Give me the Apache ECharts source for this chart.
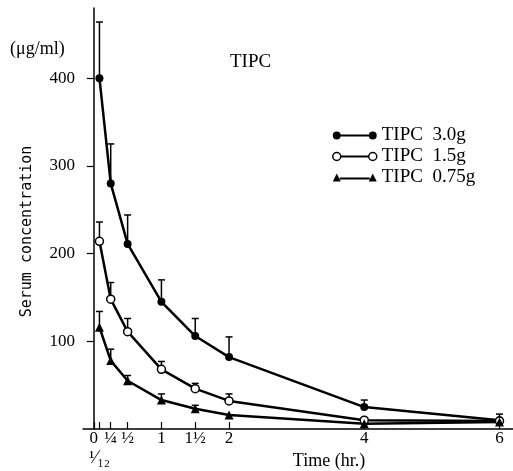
<!DOCTYPE html>
<html><head><meta charset="utf-8">
<script src="https://cdn.jsdelivr.net/npm/echarts@6/dist/echarts.min.js"></script>
<style>html,body{margin:0;padding:0;background:#fff}#c{width:513px;height:471px}</style>
</head><body><div id="c"></div>
<script>
// Time points (hr.)
const times = [1/12, 1/4, 1/2, 1, 1.5, 2, 4, 6];
// Mean serum concentration (µg/ml)
const dose30 = [400, 280, 211, 145, 106, 82, 25, 10];
const dose15 = [214, 148, 111, 68, 46, 32, 10, 9];
const dose075 = [116, 78, 55, 33, 23, 16, 6, 8];
// Upper end of error bars (mean + SD)
const dose30Top = [464, 325, 244, 170, 126, 105, 33, 17];
const dose15Top = [236, 167, 126, 77, 52, 40, null, null];
const dose075Top = [134, 91, 61, 40, 27, null, null, null];
// Axis ticks
const xTicks = [0, 1/12, 1/4, 1/2, 1, 1.5, 2, 4, 6];
const xTickLabels = ['0', '', '\u00BC', '\u00BD', '1', '1\u00BD', '2', '4', '6'];
const xLowTicks = [1/12];
const xLowLabels = ['\u00B9\u2044\u2081\u2082'];
const yTicks = [100, 200, 300, 400];
const seriesNames = ['TIPC  3.0g', 'TIPC  1.5g', 'TIPC  0.75g'];

const SERIF = '"Liberation Serif", "DejaVu Serif", serif';

function pairs(ys) { return times.map((t, i) => [t, ys[i]]); }
function errData(ys, tops) {
  const out = [];
  times.forEach((t, i) => { if (tops[i] != null) out.push([t, ys[i], tops[i]]); });
  return out;
}
function renderErr(params, api) {
  const x = api.value(0), m = api.value(1), t = api.value(2);
  const p0 = api.coord([x, m]), p1 = api.coord([x, t]);
  return { type: 'group', children: [
    { type: 'line', shape: { x1: p0[0], y1: p0[1], x2: p1[0], y2: p1[1] }, style: { stroke: '#000', lineWidth: 1.5 } },
    { type: 'line', shape: { x1: p1[0] - 3.5, y1: p1[1], x2: p1[0] + 3.5, y2: p1[1] }, style: { stroke: '#000', lineWidth: 1.5 } }
  ]};
}
function labelFor(ticks, labels) {
  return function (v) {
    for (let i = 0; i < ticks.length; i++) if (Math.abs(ticks[i] - v) < 1e-6) return labels[i];
    return '';
  };
}

const iconFilled = 'path://M0,5A4,4,0,1,1,8,5A4,4,0,1,1,0,5Z M8,4L36,4L36,6L8,6Z M36,5A4,4,0,1,1,44,5A4,4,0,1,1,36,5Z';
const iconOpen = 'path://M0,5A4,4,0,1,1,8,5A4,4,0,1,1,0,5Z M8,4.75L36,4.75L36,5.25L8,5.25Z M36,5A4,4,0,1,1,44,5A4,4,0,1,1,36,5Z';
const iconTri = 'path://M0,9L4,1L8,9Z M7,5L37,5L37,7L7,7Z M36,9L40,1L44,9Z';

const chart = echarts.init(document.getElementById('c'), null, { renderer: 'canvas' });
chart.setOption({
  animation: false,
  backgroundColor: '#fff',
  textStyle: { fontFamily: SERIF, color: '#000' },
  title: [
    { text: 'TIPC', left: 230, top: 53, padding: 0, textStyle: { fontFamily: SERIF, fontSize: 19, fontWeight: 'normal', color: '#000' } },
    { text: '(\u03BCg/ml)', left: 10, top: 40, padding: 0, textStyle: { fontFamily: SERIF, fontSize: 18, fontWeight: 'normal', color: '#000' } }
  ],
  legend: {
    orient: 'vertical', left: 332, top: 126, padding: 0,
    itemWidth: 44, itemHeight: 8, itemGap: 2, selectedMode: false,
    textStyle: { fontFamily: SERIF, fontSize: 19, color: '#000' },
    data: [
      { name: seriesNames[0], icon: iconFilled, itemStyle: { color: '#000', borderWidth: 0 } },
      { name: seriesNames[1], icon: iconOpen, itemStyle: { color: '#fff', borderColor: '#000', borderWidth: 1.5 } },
      { name: seriesNames[2], icon: iconTri, itemStyle: { color: '#000', borderWidth: 0 } }
    ]
  },
  grid: { left: 83, right: 0, top: 8, bottom: 42, containLabel: false, outerBoundsMode: 'none' },
  xAxis: [{
    type: 'value', min: -0.16, max: 6.2,
    name: 'Time (hr.)', nameLocation: 'middle', nameGap: 22,
    nameTextStyle: { fontFamily: SERIF, fontSize: 18, color: '#000', padding: [0, 0, 0, 62] },
    axisLine: { show: true, lineStyle: { color: '#000', width: 1.5 } },
    axisTick: { show: true, inside: true, length: 7, customValues: xTicks, lineStyle: { color: '#000', width: 1.2 } },
    axisLabel: { customValues: xTicks, margin: 1, fontFamily: SERIF, fontSize: 17, color: '#000', hideOverlap: false,
      formatter: labelFor(xTicks, xTickLabels) },
    splitLine: { show: false }
  }, {
    type: 'value', min: -0.16, max: 6.2, position: 'bottom', gridIndex: 0,
    axisLine: { show: false }, axisTick: { show: false }, splitLine: { show: false },
    axisLabel: { customValues: xLowTicks, margin: 20, fontFamily: SERIF, fontSize: 18, color: '#000',
      formatter: labelFor(xLowTicks, xLowLabels) }
  }],
  yAxis: {
    type: 'value', min: 0, max: 480,
    name: 'Serum concentration', nameLocation: 'middle', nameRotate: 90, nameGap: 48,
    nameTextStyle: { fontFamily: '"DejaVu Sans Mono", monospace', fontSize: 15, color: '#000', padding: [0, 26, 0, 0] },
    axisLine: { show: true, lineStyle: { color: '#000', width: 1.5 } },
    axisTick: { show: true, inside: false, length: 7, customValues: yTicks, lineStyle: { color: '#000', width: 1.2 } },
    axisLabel: { customValues: yTicks, margin: 8, fontFamily: SERIF, fontSize: 17, color: '#000' },
    splitLine: { show: false }
  },
  series: [
    { type: 'custom', name: 'err30', renderItem: renderErr, data: errData(dose30, dose30Top), encode: { x: 0, y: [1, 2] }, z: 1, silent: true },
    { type: 'custom', name: 'err15', renderItem: renderErr, data: errData(dose15, dose15Top), encode: { x: 0, y: [1, 2] }, z: 1, silent: true },
    { type: 'custom', name: 'err075', renderItem: renderErr, data: errData(dose075, dose075Top), encode: { x: 0, y: [1, 2] }, z: 1, silent: true },
    { type: 'line', name: seriesNames[0], data: pairs(dose30), symbol: 'circle', symbolSize: 8, showAllSymbol: true,
      lineStyle: { color: '#000', width: 2.5 }, itemStyle: { color: '#000' }, z: 3 },
    { type: 'line', name: seriesNames[1], data: pairs(dose15), symbol: 'circle', symbolSize: 8, showAllSymbol: true,
      lineStyle: { color: '#000', width: 2.5 }, itemStyle: { color: '#fff', borderColor: '#000', borderWidth: 1.5 }, z: 3 },
    { type: 'line', name: seriesNames[2], data: pairs(dose075), symbol: 'triangle', symbolSize: 9, showAllSymbol: true,
      lineStyle: { color: '#000', width: 2.5 }, itemStyle: { color: '#000' }, z: 3 }
  ]
});
</script>
</body></html>
